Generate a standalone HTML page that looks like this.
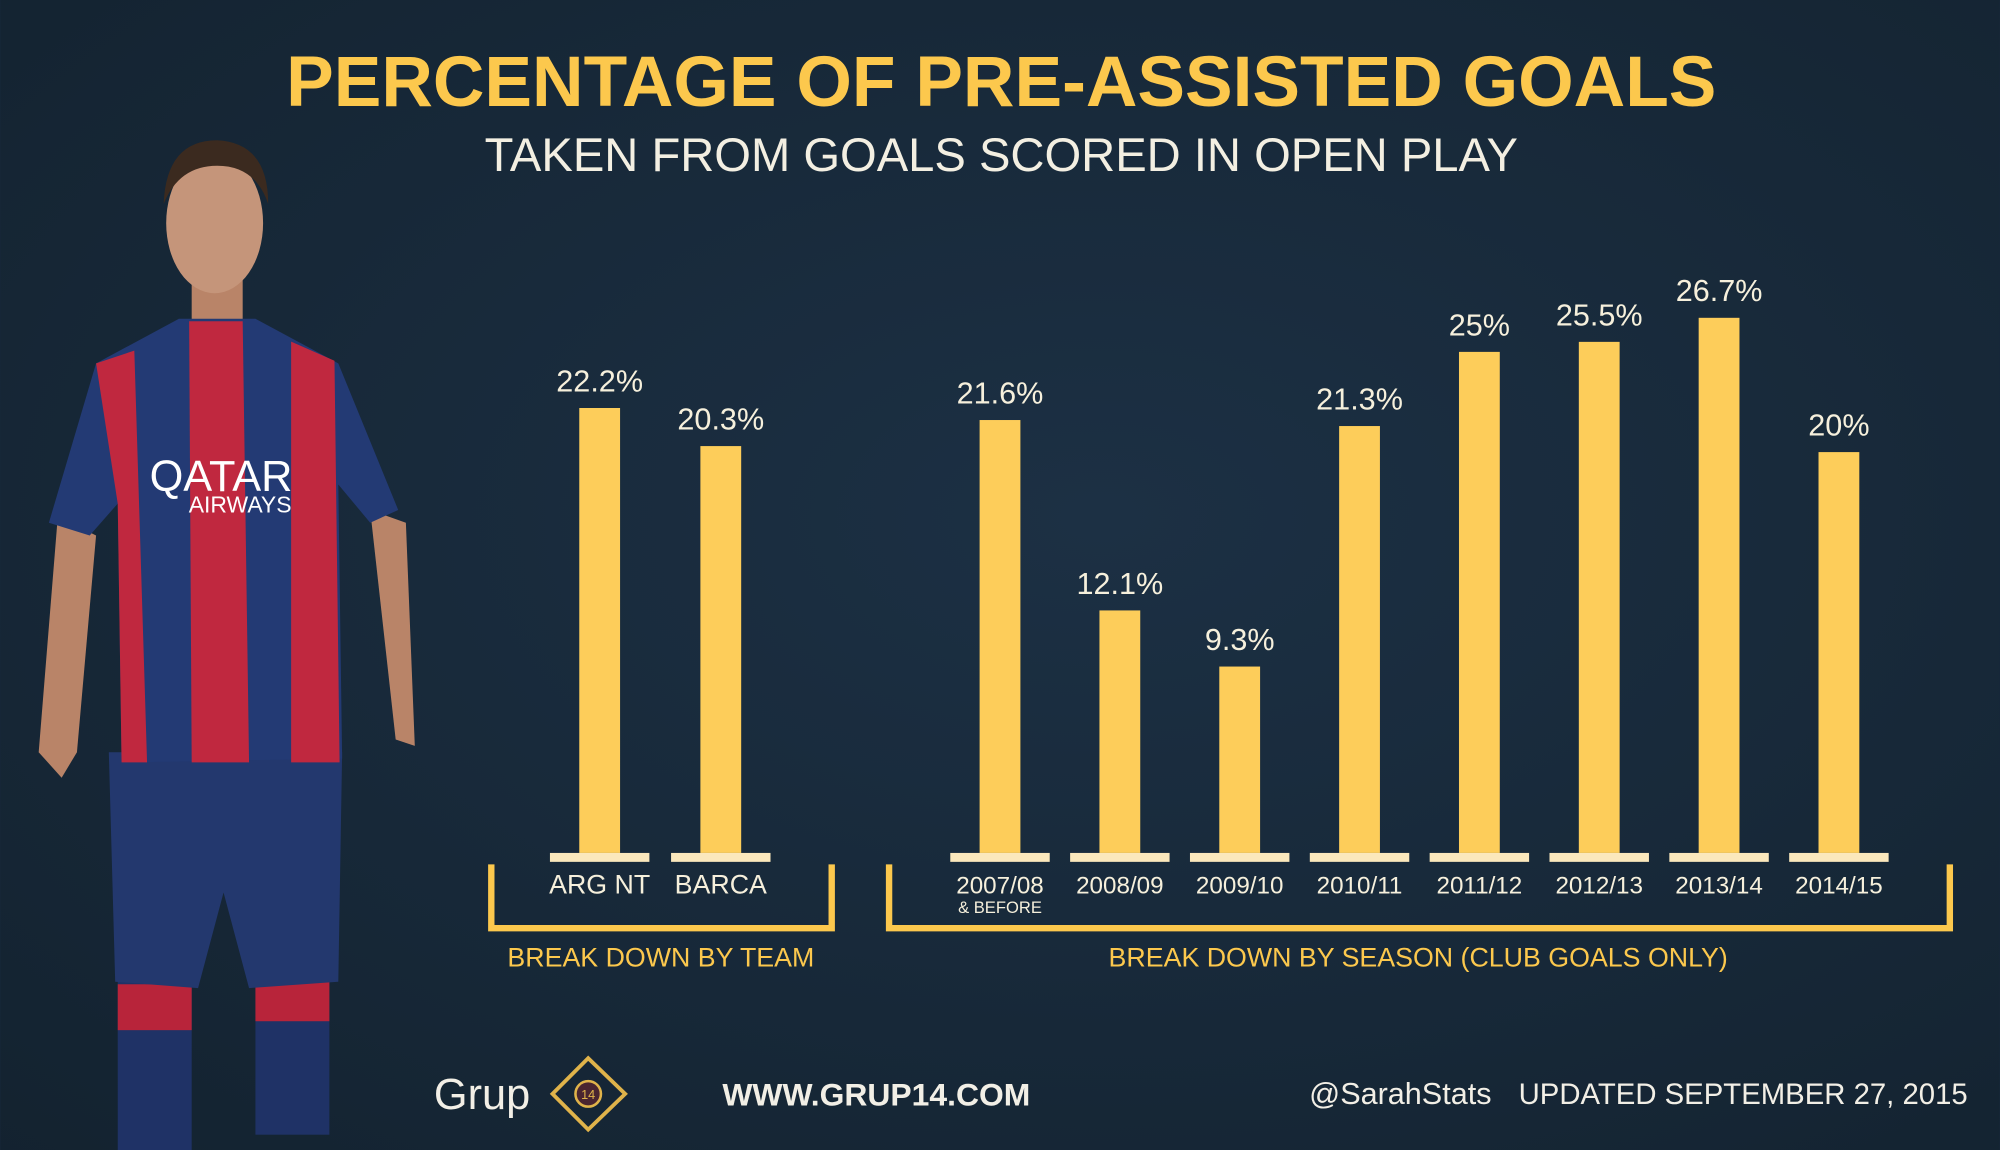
<!DOCTYPE html>
<html><head><meta charset="utf-8">
<style>
html,body{margin:0;padding:0;background:#16273a;}
svg{display:block;}
text{font-family:"Liberation Sans",sans-serif;}
</style></head>
<body>
<svg id="chart" width="2000" height="1150" viewBox="0 0 1568 902" xmlns="http://www.w3.org/2000/svg">
<defs>
<radialGradient id="bg" cx="0.55" cy="0.45" r="0.8">
<stop offset="0" stop-color="#1c3044"/><stop offset="1" stop-color="#13222f"/>
</radialGradient>
</defs>
<rect width="1568" height="902" fill="url(#bg)"/>

<text x="785" y="83" text-anchor="middle" font-size="56" font-weight="bold" fill="#fcc84d">PERCENTAGE OF PRE-ASSISTED GOALS</text>
<text x="785" y="134" text-anchor="middle" font-size="37" fill="#f3efe2">TAKEN FROM GOALS SCORED IN OPEN PLAY</text>

<g>
 <rect x="92" y="770" width="58" height="132" fill="#1f3266"/>
 <rect x="200" y="770" width="58" height="120" fill="#1f3266"/>
 <rect x="92" y="772" width="58" height="36" fill="#b8243a"/>
 <rect x="200" y="765" width="58" height="36" fill="#b8243a"/>
 <path d="M85 590 L268 590 L265 770 L195 775 L175 700 L155 775 L90 770 Z" fill="#23386e"/>
 <path d="M45 405 L30 590 L48 610 L60 590 L75 420 Z" fill="#b98468"/>
 <path d="M290 400 L310 580 L325 585 L318 410 Z" fill="#b98468"/>
 <rect x="150" y="210" width="40" height="45" fill="#b98468"/>
 <ellipse cx="168" cy="175" rx="38" ry="55" fill="#c5957a"/>
 <path d="M128 160 Q130 110 170 110 Q210 112 210 160 Q200 130 170 130 Q140 130 128 160Z" fill="#3b2a1f"/>
 <path d="M75 285 L140 250 L200 250 L265 285 L312 400 L290 410 L265 380 L268 595 L95 598 L92 395 L70 420 L38 410 Z" fill="#233a74"/>
 <path d="M75 285 L105 275 L115 598 L95 598 L92 395 Z" fill="#c0283f"/>
 <path d="M148 252 L190 252 L195 598 L150 598 Z" fill="#c0283f"/>
 <path d="M228 268 L262 283 L266 598 L228 598 Z" fill="#c0283f"/>
 <text x="173" y="385" text-anchor="middle" font-family="Liberation Serif" font-size="34" fill="#fff">QATAR</text>
 <text x="188" y="402" text-anchor="middle" font-family="Liberation Serif" font-size="18" fill="#fff">AIRWAYS</text>
</g>

<g id="bars"></g>

<g>
 <text x="340" y="870" font-size="34" fill="#f2efe6">Grup</text>
 <g>
  <path d="M433 858 L461 830 L490 858 L461 886 Z" fill="none" stroke="#e0b34a" stroke-width="3"/>
  <circle cx="461" cy="858" r="10" fill="#4a2530" stroke="#e0b34a" stroke-width="2"/>
  <text x="461" y="862" text-anchor="middle" font-size="10" fill="#e0b34a">14</text>
 </g>
 <text x="687" y="867" text-anchor="middle" font-size="25" font-weight="bold" fill="#f2efe6">WWW.GRUP14.COM</text>
 <text x="1098" y="866" text-anchor="middle" font-size="24" fill="#f2efe6">@SarahStats</text>
 <text x="1543" y="866" text-anchor="end" font-size="23" fill="#f2efe6">UPDATED SEPTEMBER 27, 2015</text>
</g>

<script>
const teamCategories = ["ARG NT", "BARCA"];
const teamValues = [22.2, 20.3];
const teamLabels = ["22.2%", "20.3%"];
const seasonCategories = ["2007/08", "2008/09", "2009/10", "2010/11", "2011/12", "2012/13", "2013/14", "2014/15"];
const seasonValues = [21.6, 12.1, 9.3, 21.3, 25, 25.5, 26.7, 20];
const seasonLabels = ["21.6%", "12.1%", "9.3%", "21.3%", "25%", "25.5%", "26.7%", "20%"];

const NS = "http://www.w3.org/2000/svg";
const g = document.getElementById("bars");
const baseY = 669, pxPerUnit = 15.72;
function yScale(v){ return baseY - v * pxPerUnit; }
function teamX(i){ return 470 + i * 95; }
function seasonX(i){ return 784 + i * 94; }
function mk(tag, attrs){ const e = document.createElementNS(NS, tag); for (const k in attrs) e.setAttribute(k, attrs[k]); g.appendChild(e); return e; }

function drawGroup(cats, vals, labels, xf, prefix){
  cats.forEach((c, i) => {
    const cx = xf(i);
    const bar = mk("rect", {x: cx - 16, y: yScale(vals[i]), width: 32, height: baseY - yScale(vals[i]), fill: "#fdcd5a"});
    
    
    const base = mk("rect", {x: cx - 39, y: baseY, width: 78, height: 7, fill: "#fbe8bc"});
    
    
    const vl = mk("text", {x: cx, y: yScale(vals[i]) - 13, "text-anchor": "middle", "font-size": 24, fill: "#f6f0dc"});
    vl.textContent = labels[i];
    
    
    const cl = mk("text", {x: cx, y: 701, "text-anchor": "middle", "font-size": cats === teamCategories ? 21 : 19, fill: "#f6f0dc"});
    cl.textContent = c;
    
    
  });
}
drawGroup(teamCategories, teamValues, teamLabels, teamX, "team");
drawGroup(seasonCategories, seasonValues, seasonLabels, seasonX, "season");

const sub = mk("text", {x: seasonX(0), y: 716, "text-anchor": "middle", "font-size": 13, fill: "#f6f0dc"});
sub.textContent = "& BEFORE";



const br1 = mk("path", {d: "M385 678 L385 728 L652 728 L652 678", fill: "none", stroke: "#fcc84d", "stroke-width": 5});


const br2 = mk("path", {d: "M697 678 L697 728 L1529 728 L1529 678", fill: "none", stroke: "#fcc84d", "stroke-width": 5});


const t1 = mk("text", {x: 518, y: 758, "text-anchor": "middle", "font-size": 21, fill: "#fcc84d"});
t1.textContent = "BREAK DOWN BY TEAM";


const t2 = mk("text", {x: 1112, y: 758, "text-anchor": "middle", "font-size": 21, fill: "#fcc84d"});
t2.textContent = "BREAK DOWN BY SEASON (CLUB GOALS ONLY)";


</script>
</svg>
</body></html>
